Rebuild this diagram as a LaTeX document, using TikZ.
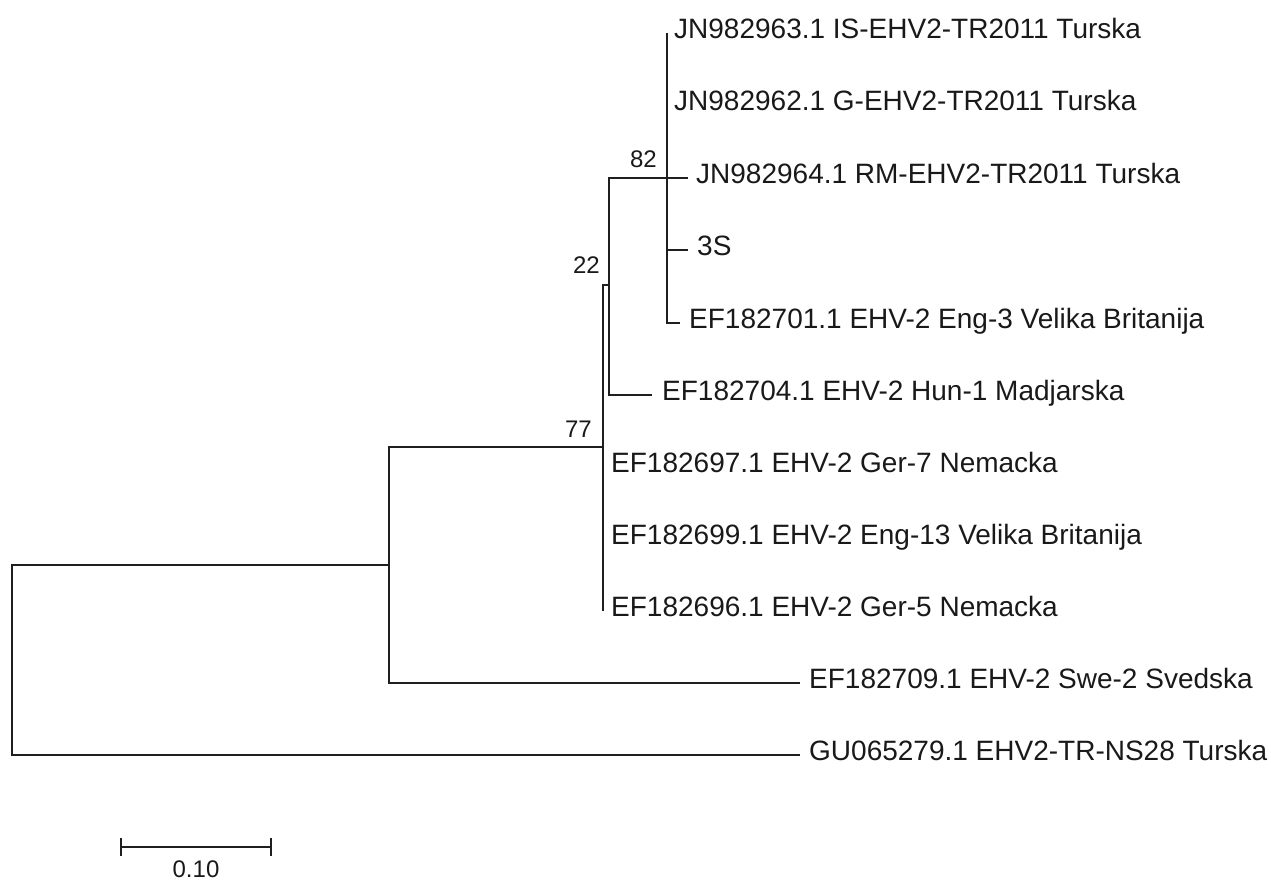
\documentclass[tikz,border=0pt]{standalone}
\usepackage{fontspec}
\setmainfont{Liberation Sans}
\usetikzlibrary{calc}
\begin{document}
\begin{tikzpicture}[x=1bp,y=-1bp,
  br/.style={line width=1.8bp, draw=black!88, line join=miter},
  leaf/.style={anchor=base west, inner sep=0pt, text=black!90, font=\fontsize{28bp}{32bp}\selectfont},
  boot/.style={anchor=base east, inner sep=0pt, text=black!90, font=\fontsize{24bp}{28bp}\selectfont},
  scl/.style={anchor=base, inner sep=0pt, text=black!90, font=\fontsize{24bp}{28bp}\selectfont}]
\useasboundingbox (0,0) rectangle (1271,880);
% internal nodes
\coordinate (root) at (12,660);
\coordinate (nA) at (389,565);
\coordinate (n77) at (603,447);
\coordinate (n22) at (609,285);
\coordinate (n82) at (667,178);
% leaf tips
\coordinate (t1) at (667,33);
\coordinate (t2) at (667,105);
\coordinate (t3) at (688,178);
\coordinate (t4) at (688,250);
\coordinate (t5) at (680,323);
\coordinate (t6) at (652,395);
\coordinate (t7) at (603,467);
\coordinate (t8) at (603,539);
\coordinate (t9) at (603,611);
\coordinate (t10) at (800,683);
\coordinate (t11) at (800,755);
% branches
\draw[br] (root) |- (nA);
\draw[br] (root) |- (t11);
\draw[br] (nA) |- (n77);
\draw[br] (nA) |- (t10);
\draw[br] (n77) |- (n22);
\draw[br] (n77) |- (t9);
\draw[br] (n22) |- (n82);
\draw[br] (n22) |- (t6);
\draw[br] (n82) |- (t1);
\draw[br] (n82) |- (t3);
\draw[br] (n82) |- (t4);
\draw[br] (n82) |- (t5);
% leaf labels
\node[leaf] (l1) at ($(t1)+(7,5)$) {JN982963.1 IS-EHV2-TR2011 Turska};
\node[leaf] (l2) at ($(t2)+(7,5)$) {JN982962.1 G-EHV2-TR2011 Turska};
\node[leaf] (l3) at ($(t3)+(8,5)$) {JN982964.1 RM-EHV2-TR2011 Turska};
\node[leaf] (l4) at ($(t4)+(9,5)$) {3S};
\node[leaf] (l5) at ($(t5)+(9,5)$) {EF182701.1 EHV-2 Eng-3 Velika Britanija};
\node[leaf] (l6) at ($(t6)+(10,5)$) {EF182704.1 EHV-2 Hun-1 Madjarska};
\node[leaf] (l7) at ($(t7)+(8,5)$) {EF182697.1 EHV-2 Ger-7 Nemacka};
\node[leaf] (l8) at ($(t8)+(8,5)$) {EF182699.1 EHV-2 Eng-13 Velika Britanija};
\node[leaf] (l9) at ($(t9)+(8,5)$) {EF182696.1 EHV-2 Ger-5 Nemacka};
\node[leaf] (l10) at ($(t10)+(9,5)$) {EF182709.1 EHV-2 Swe-2 Svedska};
\node[leaf] (l11) at ($(t11)+(9,5)$) {GU065279.1 EHV2-TR-NS28 Turska};
% bootstrap values
\node[boot] (b82) at ($(n82)+(-10,-11)$) {82};
\node[boot] (b22) at ($(n22)+(-9,-12)$) {22};
\node[boot] (b77) at ($(n77)+(-11,-10)$) {77};
% scale bar
\coordinate (sa) at (121,847);
\coordinate (sb) at (271,847);
\draw[br] (sa) -- (sb);
\draw[br] ($(sa)+(0,-9)$) -- ($(sa)+(0,9)$);
\draw[br] ($(sb)+(0,-9)$) -- ($(sb)+(0,9)$);
\node[scl] (sl) at ($(sa)!0.5!(sb)+(0,30)$) {0.10};
\end{tikzpicture}
\end{document}
